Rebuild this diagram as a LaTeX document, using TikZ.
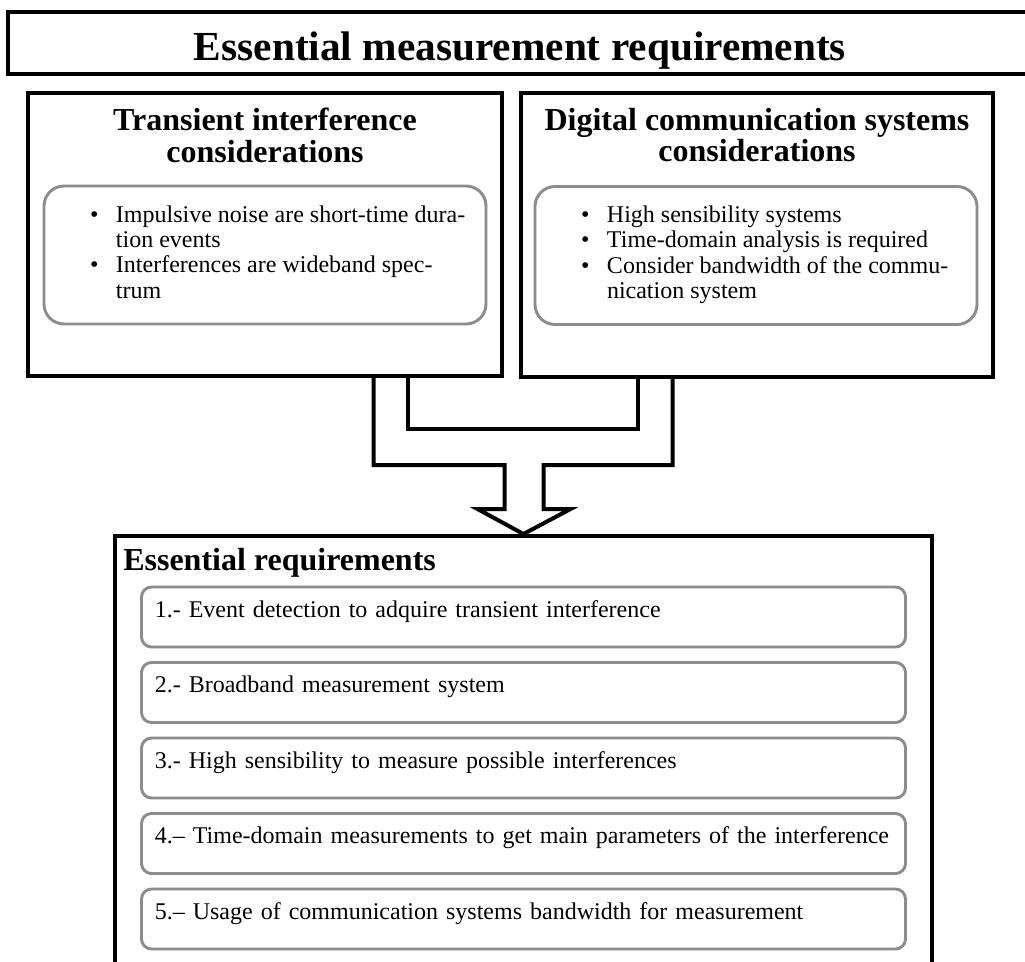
\documentclass[tikz,border=0pt]{standalone}
\usepackage{fontspec}
\setmainfont{Liberation Serif}
\usetikzlibrary{calc}
\tikzset{panel/.style={rectangle,draw,line width=3pt,inner sep=0pt},panelhead/.style={align=center,inner sep=0pt,anchor=north,font=\fontsize{24}{23.5}\selectfont\bfseries},notebox/.style={rectangle,rounded corners=15pt,draw=black!45,line width=2.2pt,minimum width=331.5pt,minimum height=103.5pt,inner sep=0pt,font=\fontsize{18}{19}\selectfont},reqbox/.style={rectangle,rounded corners=7.5pt,draw=black!45,line width=2.2pt,minimum height=45pt,text width=553pt,inner xsep=10pt,inner ysep=0pt,text height=12pt,text depth=12pt,align=left,font=\fontsize{18}{19}\selectfont},fork/.style={line width=3pt,line join=miter}}
\newcommand{\notedot}{\makebox[19.5pt][l]{\textbullet}}
\newcommand{\notelist}[1]{\hspace*{22.5pt}\makebox[285pt][l]{\begin{tabular}{@{}l@{}l@{}}#1\end{tabular}}}

\begin{document}
\begin{tikzpicture}[x=0.75pt,y=-0.75pt]
\useasboundingbox (0,0) rectangle (1025,961);
\node[panel,minimum width=768pt,minimum height=46.9pt,text height=26pt,text depth=0pt,font=\fontsize{31}{36}\selectfont\bfseries] (title) at (520,43) {Essential measurement requirements};
% the two consideration panels
\node[panel,minimum width=355.5pt,minimum height=212.25pt] (tic) at (265,234.5) {};
\node[panel,minimum width=354pt,minimum height=213pt] (dcs) at (757,235) {};
\node[panelhead] (tichead) at (265,108) {Transient interference\\considerations};
\node[panelhead] (dcshead) at (757,108) {Digital communication systems\\considerations};
\node[notebox] (ticnotes) at (265,255) {\notelist{\notedot & Impulsive noise are short-time dura-\\ & tion events\\ \notedot & Interferences are wideband spec-\\ & trum}};
\node[notebox] (dcsnotes) at (756,255.5) {\notelist{\notedot & High sensibility systems\\ \notedot & Time-domain analysis is required\\ \notedot & Consider bandwidth of the commu-\\ & nication system}};
% requirements panel
\node[panel,minimum width=612.75pt,minimum height=325.5pt] (req) at (523.5,753) {};
\node[anchor=base west,inner sep=0pt,font=\fontsize{24}{28}\selectfont\bfseries] (reqhead) at (123,570) {Essential requirements};
\foreach \n/\y/\txt in {1/617/{1.- Event detection to adquire transient interference},2/692.5/{2.- Broadband measurement system},3/768/{3.- High sensibility to measure possible interferences},4/843.5/{4.– Time-domain measurements to get main parameters of the interference},5/919/{5.– Usage of communication systems bandwidth for measurement}}
\node[reqbox] (req\n) at (523.5,\y) {\txt};
% hollow fork arrow
\coordinate (tip) at (req.north);
\coordinate (ol) at ($(tip)+(-150,-69)$);
\coordinate (or) at ($(tip)+(149,-69)$);
\coordinate (il) at ($(tip)+(-116,-105)$);
\coordinate (ir) at ($(tip)+(114,-105)$);
\draw[fork] (tic.south -| ol) -- (ol) -- ++(131,0) -- ++(0,44) -- ++(-27,0) -- (tip) -- ++(47,-25) -- ++(-27,0) -- ++(0,-44) -- (or) -- (dcs.south -| or);
\draw[fork] (tic.south -| il) -- (il) -- (ir) -- (dcs.south -| ir);
\end{tikzpicture}
\end{document}
